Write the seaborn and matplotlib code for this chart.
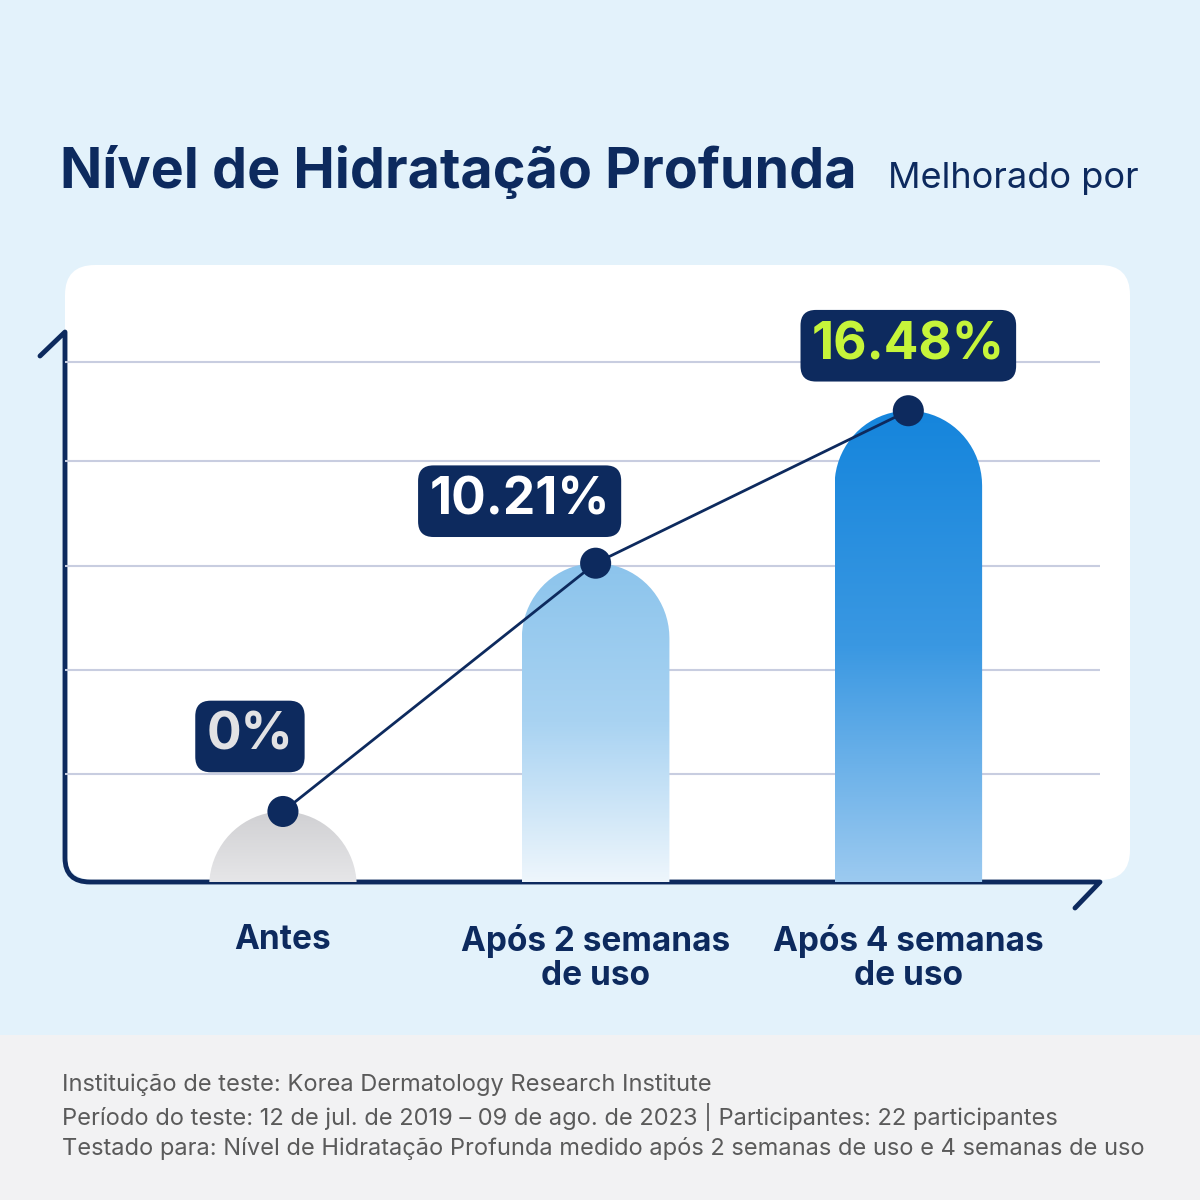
import numpy as np
import matplotlib.pyplot as plt
import seaborn as sns
from matplotlib.patches import FancyBboxPatch, PathPatch
from matplotlib.path import Path
from matplotlib.colors import LinearSegmentedColormap

categories = ["Antes", "Após 2 semanas\nde uso", "Após 4 semanas\nde uso"]
values = [0.0, 10.21, 16.48]
value_labels = ["0%", "10.21%", "16.48%"]
grid_levels = [1.56, 5.8, 10.1, 14.4, 18.5]
footer = [
    "Instituição de teste: Korea Dermatology Research Institute",
    "Período do teste: 12 de jul. de 2019 – 09 de ago. de 2023 | Participantes: 22 participantes",
    "Testado para: Nível de Hidratação Profunda medido após 2 semanas de uso e 4 semanas de uso",
]

NAVY = "#0d2a5e"
BASE = -2.9

sns.set_theme(style="white")
plt.rcParams['font.family'] = ['Inter', 'DejaVu Sans']

fig = plt.figure(figsize=(12, 12), dpi=100)
fig.patch.set_facecolor("#e3f2fb")

# background / decoration layer in pixel coordinates
bg = fig.add_axes([0, 0, 1, 1], zorder=0)
bg.set_xlim(0, 1200)
bg.set_ylim(1200, 0)
bg.axis("off")
bg.add_patch(plt.Rectangle((0, 1035), 1200, 165, color="#f2f2f3", lw=0))
bg.add_patch(FancyBboxPatch((95, 295), 1005, 555, boxstyle="round,pad=30",
                            fc="white", ec="none"))
axis_path = Path([(40, 356), (65, 332), (65, 858), (65, 882), (90, 882),
                  (1100, 882), (1075, 908)],
                 [Path.MOVETO, Path.LINETO, Path.LINETO, Path.CURVE3, Path.CURVE3,
                  Path.LINETO, Path.LINETO])
bg.add_patch(PathPatch(axis_path, fc="none", ec=NAVY, lw=3.5, capstyle="round",
                       joinstyle="round", zorder=5))

bg.text(60, 188, "Nível de Hidratação Profunda", fontsize=40, fontweight="bold",
        color=NAVY, va="baseline")
bg.text(888, 188, "Melhorado por", fontsize=26, color=NAVY, va="baseline")
for i, line in enumerate(footer):
    bg.text(62, 1085 + i * 32, line, fontsize=17, color="#5a5a5a", va="center")

# chart layer
ax = fig.add_axes([65 / 1200, 1 - 882 / 1200, (1100 - 65) / 1200, (882 - 330) / 1200],
                  zorder=2)
ax.patch.set_alpha(0)
for s in ax.spines.values():
    s.set_visible(False)

for g in grid_levels:
    ax.axhline(g, color="#c8cde0", lw=1.5, zorder=1)

cmaps = [
    LinearSegmentedColormap.from_list("c0", ["#e6e6e8", "#d0d0d3"]),
    LinearSegmentedColormap.from_list("c1", ["#eef6fc", "#a9d3f2", "#8cc4ec"]),
    LinearSegmentedColormap.from_list("c2", ["#9ccaf0", "#3a98e2", "#1585dc"]),
]
half_w = 0.236
r_y = 3.08
for i, v in enumerate(values):
    top = v
    c = top - r_y
    t = np.linspace(0, np.pi, 40)
    arc = np.column_stack([i + half_w * np.cos(t), c + r_y * np.sin(t)])
    verts = [(i + half_w, BASE), (i + half_w, c)] + [tuple(p) for p in arc] + \
            [(i - half_w, BASE), (i + half_w, BASE)]
    clip = PathPatch(Path(verts), fc="none", ec="none", transform=ax.transData)
    ax.add_patch(clip)
    grad = np.linspace(0, 1, 256).reshape(-1, 1)
    im = ax.imshow(grad, extent=[i - half_w, i + half_w, BASE, top], origin="lower",
                   aspect="auto", cmap=cmaps[i], zorder=2)
    im.set_clip_path(clip)

x_idx = list(range(len(values)))
sns.lineplot(x=x_idx, y=values, ax=ax, color=NAVY, lw=2, zorder=4)
sns.scatterplot(x=x_idx, y=values, ax=ax, color=NAVY, s=500, edgecolor="none", zorder=5)

label_colors = ["#e2e2e4", "white", "#c6f53a"]
offsets = [(-33, 75), (-76, 62), (0, 65)]
for i, v in enumerate(values):
    ax.annotate(value_labels[i], xy=(i, v), xytext=offsets[i], textcoords="offset pixels",
                ha="center", va="center", fontsize=37, fontweight="bold",
                color=label_colors[i], zorder=6,
                bbox=dict(boxstyle="round,pad=0.22,rounding_size=0.3", fc=NAVY, ec="none"))

ax.set_xlim(-0.697, 2.613)
ax.set_ylim(BASE, 19.8)
ax.set_yticks([])
ax.set_xticks(x_idx)
ax.set_xticklabels(categories, fontsize=24, fontweight="bold", color=NAVY,
                   linespacing=1.1)
ax.tick_params(axis="x", length=0, pad=30)

fig.savefig("out.png", dpi=100, facecolor=fig.get_facecolor())
